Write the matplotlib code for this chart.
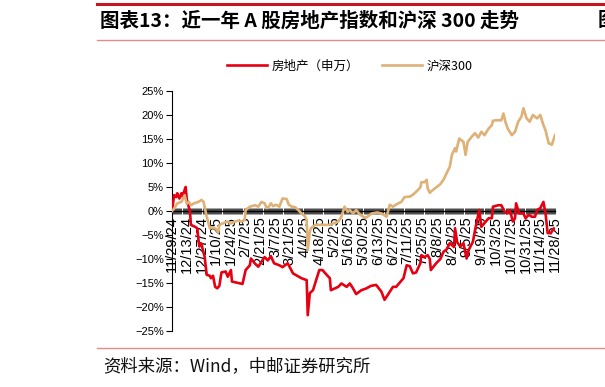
import matplotlib
matplotlib.use("Agg")
import matplotlib.pyplot as plt
import matplotlib.dates as mdates
from matplotlib.lines import Line2D
from matplotlib.ticker import FixedLocator, FixedFormatter, FuncFormatter
import pandas as pd

CJK = ['Noto Sans CJK SC', 'DejaVu Sans']

title = "图表13：近一年 A 股房地产指数和沪深 300 走势"
source = "资料来源：Wind，中邮证券研究所"
series_names = ["房地产（申万）", "沪深300"]

red_dates = ['2024-11-29','2024-12-01','2024-12-03','2024-12-04','2024-12-06','2024-12-08','2024-12-09','2024-12-11','2024-12-12','2024-12-13',
             '2024-12-14','2024-12-16','2024-12-17','2024-12-21','2024-12-23','2024-12-24','2024-12-25','2024-12-27','2024-12-28','2024-12-30',
             '2025-01-01','2025-01-04','2025-01-05','2025-01-07','2025-01-09','2025-01-11','2025-01-13','2025-01-15','2025-01-19','2025-01-21',
             '2025-01-24','2025-01-25','2025-02-04','2025-02-07','2025-02-11','2025-02-12','2025-02-16','2025-02-19','2025-02-22','2025-02-25',
             '2025-02-28','2025-03-03','2025-03-06','2025-03-11','2025-03-14','2025-03-19','2025-03-24','2025-04-01','2025-04-06','2025-04-07',
             '2025-04-09','2025-04-12','2025-04-15','2025-04-18','2025-04-21','2025-04-25','2025-04-28','2025-04-29','2025-05-06','2025-05-09',
             '2025-05-14','2025-05-17','2025-05-20','2025-05-23','2025-05-28','2025-06-02','2025-06-06','2025-06-11','2025-06-16','2025-06-19',
             '2025-06-22','2025-06-27','2025-06-30','2025-07-07','2025-07-10','2025-07-13','2025-07-16','2025-07-19','2025-07-23','2025-07-24',
             '2025-07-27','2025-07-30','2025-08-01','2025-08-02','2025-08-07','2025-08-11','2025-08-14','2025-08-17','2025-08-20','2025-08-24',
             '2025-08-25','2025-08-27','2025-08-30','2025-09-02','2025-09-05','2025-09-07','2025-09-11','2025-09-13','2025-09-15','2025-09-17',
             '2025-09-19','2025-09-22','2025-09-26','2025-09-29','2025-09-30','2025-10-05','2025-10-08','2025-10-11','2025-10-13','2025-10-16',
             '2025-10-19','2025-10-21','2025-10-22','2025-10-25','2025-10-29','2025-10-31','2025-11-03','2025-11-06','2025-11-09','2025-11-11',
             '2025-11-14','2025-11-17','2025-11-19','2025-11-21','2025-11-24','2025-11-27','2025-11-28']
red_vals = [0, 3.3, 2.9, 3.7, 2.6, 3.7, 3.0, 4.4, 5.0, 2.5,
            1.6, 0.0, -2.9, -3.3, -3.6, -5.7, -7.4, -6.8, -7.8, -9.5,
            -13.3, -13.5, -14.0, -13.5, -15.8, -16.1, -15.6, -12.8, -12.6, -13.7,
            -12.3, -14.7, -15.2, -12.3, -11.3, -9.9, -11.0, -11.6, -10.6, -9.6,
            -10.3, -9.4, -10.9, -11.3, -11.7, -10.9, -13.0, -14.0, -14.4, -21.7,
            -17.1, -16.5, -14.4, -12.3, -12.3, -13.3, -14.0, -16.5, -15.8, -15.1,
            -15.8, -15.1, -16.1, -17.3, -16.5, -16.1, -15.6, -15.4, -16.8, -18.5,
            -17.5, -15.8, -15.8, -14.0, -11.3, -11.5, -13.0, -12.8, -10.9, -9.2,
            -9.6, -9.2, -10.0, -12.3, -10.9, -10.0, -8.5, -8.0, -6.7, -7.5,
            -3.6, -6.5, -7.4, -6.7, -9.9, -8.1, -6.4, -4.0, -1.9, 0.2,
            -3.3, -2.5, -1.5, -1.5, 0.9, 1.2, 1.2, -0.1, -0.5, 0.2,
            -2.2, -1.5, 1.6, -0.5, -0.5, -1.5, -0.8, -1.2, -1.2, 0.2,
            0.6, 1.9, -0.5, -4.6, -4.6, -3.6, -4.0]

hs_dates = ['2024-11-29','2024-12-01','2024-12-04','2024-12-08','2024-12-11','2024-12-13','2024-12-15','2024-12-17','2024-12-20','2024-12-24',
            '2024-12-27','2024-12-29','2025-01-01','2025-01-04','2025-01-07','2025-01-10','2025-01-12','2025-01-13','2025-01-16','2025-01-21',
            '2025-01-24','2025-01-28','2025-01-31','2025-02-03','2025-02-06','2025-02-07','2025-02-11','2025-02-16','2025-02-19','2025-02-22',
            '2025-02-25','2025-02-27','2025-03-01','2025-03-03','2025-03-05','2025-03-08','2025-03-11','2025-03-14','2025-03-18','2025-03-20',
            '2025-03-23','2025-03-26','2025-03-29','2025-04-01','2025-04-04','2025-04-06','2025-04-07','2025-04-09','2025-04-10','2025-04-14',
            '2025-04-21','2025-04-27','2025-05-01','2025-05-06','2025-05-09','2025-05-12','2025-05-15','2025-05-17','2025-05-20','2025-05-23',
            '2025-05-27','2025-06-01','2025-06-02','2025-06-07','2025-06-12','2025-06-16','2025-06-21','2025-06-24','2025-06-27','2025-07-02',
            '2025-07-05','2025-07-08','2025-07-13','2025-07-16','2025-07-19','2025-07-23','2025-07-24','2025-07-27','2025-07-29','2025-07-30',
            '2025-08-01','2025-08-04','2025-08-07','2025-08-11','2025-08-14','2025-08-17','2025-08-20','2025-08-22','2025-08-25','2025-08-26',
            '2025-08-29','2025-09-02','2025-09-04','2025-09-06','2025-09-10','2025-09-13','2025-09-16','2025-09-19','2025-09-22','2025-09-26',
            '2025-09-29','2025-09-30','2025-10-03','2025-10-08','2025-10-10','2025-10-12','2025-10-14','2025-10-18','2025-10-21','2025-10-24',
            '2025-10-27','2025-10-29','2025-11-01','2025-11-04','2025-11-07','2025-11-11','2025-11-14','2025-11-17','2025-11-19','2025-11-22',
            '2025-11-25','2025-11-28']
hs_vals = [0, 0.5, 1.6, 1.9, 3.3, 1.5, 1.9, 1.2, 1.6, 1.9,
           2.3, 1.9, -1.2, -3.6, -3.4, -3.8, -4.5, -2.9, -2.6, -2.2,
           -2.6, -2.2, -2.0, -2.2, -1.9, 0.2, 0.9, 1.2, 0.9, 1.9,
           1.6, 0.6, 0.9, 1.6, 1.0, 1.3, 0.9, 2.6, 2.5, 1.3,
           0.9, 0.8, 0.2, -0.5, -1.0, -1.9, -8.1, -4.3, -3.6, -2.9,
           -2.9, -2.9, -2.6, -2.2, -1.2, 0.9, -0.2, 0.2, -0.5, 0.2,
           -0.8, -1.5, -1.3, -0.5, -0.3, -0.5, -1.2, 1.3, 0.9, 1.6,
           1.9, 2.9, 3.0, 3.4, 4.0, 4.9, 6.0, 6.0, 6.5, 4.7,
           3.8, 4.4, 4.9, 5.6, 6.5, 7.9, 9.2, 11.7, 13.1, 12.4,
           15.1, 14.4, 11.7, 14.4, 15.5, 16.2, 15.3, 16.5, 15.8, 17.2,
           17.9, 18.8, 18.9, 18.9, 20.3, 18.5, 17.2, 15.8, 16.5, 18.6,
           19.6, 21.4, 19.3, 18.6, 20.0, 19.3, 20.0, 17.9, 16.8, 14.1,
           13.8, 15.8]

x_tick_labels = ['11/29/24', '12/13/24', '12/27/24', '1/10/25', '1/24/25', '2/7/25', '2/21/25',
                 '3/7/25', '3/21/25', '4/4/25', '4/18/25', '5/2/25', '5/16/25', '5/30/25',
                 '6/13/25', '6/27/25', '7/11/25', '7/25/25', '8/8/25', '8/22/25', '9/5/25',
                 '9/19/25', '10/3/25', '10/17/25', '10/31/25', '11/14/25', '11/28/25']
y_ticks = [-25, -20, -15, -10, -5, 0, 5, 10, 15, 20, 25]

RED = '#E60012'
TAN = '#DEB176'

W, H = 605, 387
fig = plt.figure(figsize=(W / 100, H / 100), dpi=100)
ax = fig.add_axes([172 / W, 1 - 331 / H, (555 - 172) / W, 240 / H])

rd = pd.to_datetime(red_dates)
hd = pd.to_datetime(hs_dates)
ax.plot(rd, red_vals, color=RED, lw=1.9, zorder=3, solid_joinstyle='round', label=series_names[0])
ax.plot(hd, hs_vals, color=TAN, lw=1.9, zorder=3, solid_joinstyle='round', label=series_names[1])

tick_dates = pd.to_datetime(x_tick_labels, format='%m/%d/%y')
ax.set_xlim(tick_dates[0], tick_dates[-1])
ax.set_ylim(-25, 25)

ax.xaxis.set_major_locator(FixedLocator(mdates.date2num(tick_dates)))
ax.xaxis.set_major_formatter(FixedFormatter(x_tick_labels))
ax.xaxis.set_minor_locator(mdates.DayLocator())
ax.tick_params(axis='x', which='both', direction='inout', length=4.5, width=0.5, color='black')
ax.tick_params(axis='x', which='major', labelrotation=90, labelsize=10.5, labelfontfamily='Liberation Sans', pad=1.5)

ax.set_yticks(y_ticks)
ax.yaxis.set_major_formatter(FuncFormatter(lambda v, p: (f'{int(v)}%' if v >= 0 else f'\u2212{int(-v)}%')))
ax.tick_params(axis='y', direction='out', length=4, width=0.8, labelsize=8, pad=2,
               labelfontfamily='Liberation Sans')

for s in ['top', 'right']:
    ax.spines[s].set_visible(False)
ax.spines['bottom'].set_position(('data', 0))
ax.spines['bottom'].set_linewidth(1.0)
ax.spines['left'].set_linewidth(0.8)

fig.legend(loc='center', bbox_to_anchor=(0.578, 1 - 66 / H), ncol=2, frameon=False,
           prop={'family': CJK, 'size': 9}, handlelength=3.2, handletextpad=0.35, columnspacing=1.8)

fig.text(100 / W, 1 - 21 / H, title, fontsize=14, fontweight='bold', family=CJK, va='center', ha='left')
fig.text(598 / W, 1 - 21 / H, "图", fontsize=14, fontweight='bold', family=CJK, va='center', ha='left')
fig.add_artist(Line2D([97 / W, 1], [1 - 4 / H] * 2, color='#C8161E', lw=2.2))
fig.add_artist(Line2D([97 / W, 1], [1 - 40 / H] * 2, color='#E58A8A', lw=1.0))
fig.add_artist(Line2D([97 / W, 1], [1 - 348 / H] * 2, color='#E58A8A', lw=1.0))
fig.text(103 / W, 1 - 366 / H, source, fontsize=12.5, family=CJK, va='center', ha='left', color='#111111')

fig.savefig('out.png', dpi=100)
